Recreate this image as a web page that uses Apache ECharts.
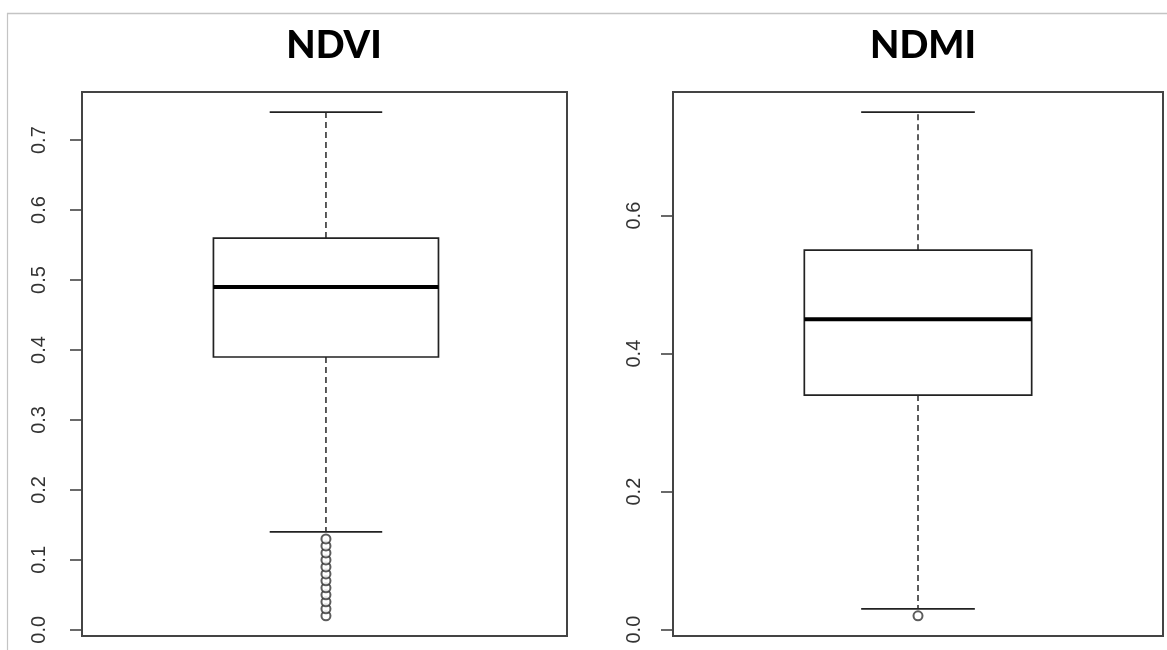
<!DOCTYPE html>
<html>
<head>
<meta charset="utf-8">
<script src="https://cdn.jsdelivr.net/npm/echarts@6/dist/echarts.min.js"></script>
<style>
html,body{margin:0;padding:0;background:#fff;}
#chart{width:1167px;height:650px;}
</style>
</head>
<body>
<div id="chart"></div>
<script>
// ---- data ----
const titles = ['NDVI', 'NDMI'];
// [lower whisker, Q1, median, Q3, upper whisker]
const ndviStats = [0.14, 0.39, 0.49, 0.56, 0.74];
const ndmiStats = [0.03, 0.34, 0.45, 0.55, 0.75];
const ndviOutliers = [0.02, 0.03, 0.04, 0.05, 0.06, 0.07, 0.08, 0.09, 0.10, 0.11, 0.12, 0.13];
const ndmiOutliers = [0.02];
const ndviTicks = [0.0, 0.1, 0.2, 0.3, 0.4, 0.5, 0.6, 0.7];
const ndmiTicks = [0.0, 0.2, 0.4, 0.6];
const ndviRange = [-0.0088, 0.7688];
const ndmiRange = [-0.0092, 0.7792];

const chart = echarts.init(document.getElementById('chart'), null, {renderer: 'canvas'});

const LINE = '#222';
const BOXHALF = 0.232;
const CAPHALF = 0.116;

function renderBox(params, api) {
  const x = api.value(0);
  const lo = api.value(1), q1 = api.value(2), md = api.value(3), q3 = api.value(4), hi = api.value(5);
  const c = api.coord([x, md]);
  const left = api.coord([x - BOXHALF, q1])[0];
  const right = api.coord([x + BOXHALF, q1])[0];
  const capL = api.coord([x - CAPHALF, lo])[0];
  const capR = api.coord([x + CAPHALF, lo])[0];
  const yLo = api.coord([x, lo])[1];
  const yQ1 = api.coord([x, q1])[1];
  const yMd = c[1];
  const yQ3 = api.coord([x, q3])[1];
  const yHi = api.coord([x, hi])[1];
  const cx = c[0];
  const dashStyle = {stroke: '#333', lineWidth: 1.6, lineDash: [6, 4]};
  const solid = {stroke: LINE, lineWidth: 1.7};
  return {
    type: 'group',
    children: [
      {type: 'line', shape: {x1: cx, y1: yQ3, x2: cx, y2: yHi}, style: dashStyle},
      {type: 'line', shape: {x1: cx, y1: yQ1, x2: cx, y2: yLo}, style: dashStyle},
      {type: 'line', shape: {x1: capL, y1: yHi, x2: capR, y2: yHi}, style: solid},
      {type: 'line', shape: {x1: capL, y1: yLo, x2: capR, y2: yLo}, style: solid},
      {type: 'rect', shape: {x: left, y: yQ3, width: right - left, height: yQ1 - yQ3},
        style: {fill: '#fff', stroke: LINE, lineWidth: 1.7}},
      {type: 'line', shape: {x1: left, y1: yMd, x2: right, y2: yMd}, style: {stroke: '#000', lineWidth: 4}}
    ]
  };
}

function yAxisFor(gridIndex, range, ticks, margin) {
  return {
    type: 'value', gridIndex: gridIndex, min: range[0], max: range[1],
    splitLine: {show: false},
    axisLine: {show: false},
    axisTick: {show: true, length: 12, customValues: ticks, lineStyle: {color: '#444', width: 1.6}},
    axisLabel: {
      customValues: ticks, rotate: 90, margin: margin,
      formatter: v => v.toFixed(1),
      fontFamily: 'Liberation Sans, Arial, sans-serif', fontSize: 20, color: '#333'
    }
  };
}

function xAxisFor(gridIndex) {
  return {type: 'value', gridIndex: gridIndex, min: 0, max: 1, show: false};
}

const option = {
  backgroundColor: '#fff',
  animation: false,
  title: [
    {text: titles[0], left: 329, top: 22, textAlign: 'center',
      textStyle: {fontFamily: 'Lato, Open Sans, sans-serif', fontWeight: 900, fontSize: 38, color: '#000'}},
    {text: titles[1], left: 918, top: 22, textAlign: 'center',
      textStyle: {fontFamily: 'Lato, Open Sans, sans-serif', fontWeight: 900, fontSize: 38, color: '#000'}}
  ],
  grid: [
    {left: 82, top: 92, width: 485, height: 544, show: true, borderColor: '#444', borderWidth: 2, backgroundColor: 'transparent'},
    {left: 673, top: 92, width: 490, height: 544, show: true, borderColor: '#444', borderWidth: 2, backgroundColor: 'transparent'}
  ],
  xAxis: [xAxisFor(0), xAxisFor(1)],
  yAxis: [yAxisFor(0, ndviRange, ndviTicks, 33), yAxisFor(1, ndmiRange, ndmiTicks, 29)],
  graphic: [
    {type: 'line', shape: {x1: 7, y1: 13.5, x2: 1167, y2: 13.5}, style: {stroke: '#c4c4c4', lineWidth: 1.5}, silent: true},
    {type: 'line', shape: {x1: 7.5, y1: 13, x2: 7.5, y2: 650}, style: {stroke: '#c4c4c4', lineWidth: 1.2}, silent: true}
  ],
  series: [
    {type: 'custom', xAxisIndex: 0, yAxisIndex: 0, renderItem: renderBox,
      data: [[0.503].concat(ndviStats)], encode: {x: 0, y: [1, 2, 3, 4, 5]}, clip: false},
    {type: 'custom', xAxisIndex: 1, yAxisIndex: 1, renderItem: renderBox,
      data: [[0.5].concat(ndmiStats)], encode: {x: 0, y: [1, 2, 3, 4, 5]}, clip: false},
    {type: 'scatter', xAxisIndex: 0, yAxisIndex: 0, symbol: 'emptyCircle', symbolSize: 9, z: 5,
      itemStyle: {color: '#333', borderColor: '#333', borderWidth: 1.4},
      data: ndviOutliers.map(v => [0.503, v])},
    {type: 'scatter', xAxisIndex: 1, yAxisIndex: 1, symbol: 'emptyCircle', symbolSize: 9, z: 5,
      itemStyle: {color: '#333', borderColor: '#333', borderWidth: 1.4},
      data: ndmiOutliers.map(v => [0.5, v])}
  ]
};
chart.setOption(option);
</script>
</body>
</html>
